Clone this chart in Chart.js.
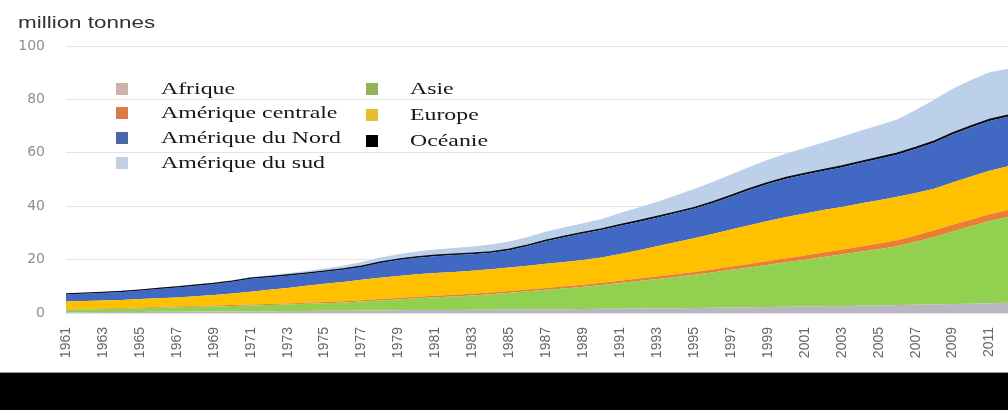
<!DOCTYPE html>
<html>
<head>
<meta charset="utf-8">
<script src="https://cdn.jsdelivr.net/npm/chart.js@4.4.1/dist/chart.umd.min.js"></script>
<style>
  html, body { margin: 0; padding: 0; background: #fff; overflow: hidden; }
  #wrap { position: relative; width: 1008px; height: 372px; }
  #chart { position: absolute; left: 0; top: 0; }
  #unit {
    position: absolute; left: 18px; top: 13px;
    font: 17px "Liberation Sans", Arial, sans-serif; color: #333;
    transform: scaleX(1.32); transform-origin: left top; white-space: nowrap;
  }
  .lg-item { position: absolute; height: 20px; white-space: nowrap; }
  .lg-box { position: absolute; left: 0; top: 4px; width: 12px; height: 12px; }
  .lg-text {
    position: absolute; top: 0; line-height: 20px;
    font: 17px "Liberation Serif", "Times New Roman", serif; color: #161616;
    transform: scaleX(1.4); transform-origin: left center;
  }
  #band { width: 1008px; height: 38px; background: #000; border-top: 1px solid #9a9a9a; box-sizing: border-box; }
</style>
</head>
<body>
<div id="wrap">
  <canvas id="chart" width="1008" height="372"></canvas>
  <div id="unit">million tonnes</div>
  <div id="legend"></div>
</div>
<div id="band"></div>
<script>
// years 1961-2012, every other one labelled on the axis
const years = [];
for (let y = 1961; y <= 2012; y++) years.push(String(y));

const yTicks = [0, 20, 40, 60, 80, 100];

// million tonnes per region, stacked bottom to top in this order
const afrique = [
  0.30, 0.32, 0.35, 0.37, 0.40, 0.45, 0.48, 0.52, 0.56, 0.60,
  0.65, 0.70, 0.72, 0.78, 0.82, 0.88, 0.92, 0.98, 1.02, 1.08,
  1.12, 1.15, 1.18, 1.22, 1.28, 1.32, 1.38, 1.42, 1.50, 1.58,
  1.62, 1.70, 1.75, 1.82, 1.90, 2.00, 2.08, 2.18, 2.25, 2.35,
  2.45, 2.55, 2.62, 2.72, 2.82, 2.95, 3.05, 3.20, 3.35, 3.50,
  3.65, 3.80
];
const asie = [
  0.90, 1.00, 1.12, 1.25, 1.40, 1.55, 1.68, 1.80, 1.92, 2.05,
  2.15, 2.30, 2.45, 2.65, 2.85, 3.05, 3.40, 3.70, 4.05, 4.40,
  4.75, 5.05, 5.40, 5.80, 6.30, 6.80, 7.30, 7.80, 8.30, 8.90,
  9.60, 10.30, 11.00, 11.70, 12.40, 13.20, 14.10, 14.90, 15.80, 16.65,
  17.50, 18.40, 19.30, 20.20, 21.10, 22.05, 23.60, 25.30, 27.20, 29.00,
  30.80, 32.20
];
const ameriqueCentrale = [
  0.20, 0.21, 0.22, 0.24, 0.25, 0.27, 0.29, 0.31, 0.33, 0.35,
  0.38, 0.40, 0.42, 0.44, 0.46, 0.48, 0.50, 0.52, 0.54, 0.56,
  0.58, 0.60, 0.62, 0.64, 0.66, 0.70, 0.72, 0.76, 0.80, 0.85,
  0.88, 0.92, 0.95, 1.00, 1.05, 1.10, 1.20, 1.30, 1.40, 1.50,
  1.60, 1.70, 1.80, 1.95, 2.10, 2.25, 2.35, 2.45, 2.50, 2.55,
  2.55, 2.60
];
const europe = [
  2.90, 2.95, 3.00, 3.05, 3.15, 3.23, 3.40, 3.65, 3.95, 4.30,
  4.82, 5.30, 5.80, 6.30, 6.80, 7.20, 7.68, 8.00, 8.25, 8.46,
  8.55, 8.60, 8.65, 8.70, 8.76, 8.85, 9.00, 9.10, 9.25, 9.45,
  10.00, 10.60, 11.30, 12.00, 12.65, 13.30, 13.90, 14.50, 15.00, 15.50,
  15.70, 15.90, 16.00, 16.10, 16.20, 16.25, 15.90, 15.55, 15.80, 16.10,
  16.30, 16.40
];
const ameriqueNord = [
  2.70, 2.80, 2.90, 3.00, 3.20, 3.50, 3.70, 3.90, 4.10, 4.40,
  4.80, 4.70, 4.60, 4.50, 4.50, 4.60, 4.70, 5.50, 6.00, 6.20,
  6.30, 6.30, 6.20, 6.20, 6.50, 7.40, 8.50, 9.30, 9.90, 10.30,
  10.60, 10.60, 10.70, 10.80, 11.00, 11.50, 12.30, 13.20, 13.90, 14.30,
  14.50, 14.60, 14.80, 15.20, 15.50, 15.80, 16.50, 17.30, 18.00, 18.30,
  18.60, 18.50
];
const oceanie = [
  0.15, 0.15, 0.16, 0.17, 0.18, 0.19, 0.20, 0.22, 0.22, 0.23,
  0.25, 0.25, 0.26, 0.28, 0.28, 0.29, 0.31, 0.31, 0.32, 0.34,
  0.34, 0.35, 0.36, 0.36, 0.38, 0.38, 0.39, 0.41, 0.41, 0.42,
  0.43, 0.45, 0.45, 0.46, 0.48, 0.48, 0.49, 0.51, 0.51, 0.52,
  0.53, 0.55, 0.55, 0.56, 0.58, 0.58, 0.59, 0.61, 0.61, 0.62,
  0.63, 0.64
];
const ameriqueSud = [
  0.20, 0.20, 0.22, 0.22, 0.25, 0.25, 0.28, 0.30, 0.32, 0.35,
  0.40, 0.48, 0.60, 0.75, 0.95, 1.20, 1.60, 1.75, 1.85, 1.95,
  2.10, 2.30, 2.45, 2.70, 2.90, 3.05, 3.20, 3.35, 3.50, 3.70,
  4.30, 4.90, 5.50, 6.20, 7.00, 7.50, 7.80, 8.10, 8.50, 8.90,
  9.50, 10.20, 10.90, 11.50, 12.00, 12.60, 14.00, 15.50, 16.50, 17.20,
  17.60, 17.30
];

const series = [
  { name: 'Afrique', data: afrique, color: '#b9b6c2', legend: '#c9b3ab' },
  { name: 'Asie', data: asie, color: '#92d050', legend: '#93b456' },
  { name: 'Amérique centrale', data: ameriqueCentrale, color: '#ed7d31', legend: '#dd7a4c' },
  { name: 'Europe', data: europe, color: '#ffc000', legend: '#e6bd2e' },
  { name: 'Amérique du Nord', data: ameriqueNord, color: '#4169c4', legend: '#4a67a6' },
  { name: 'Océanie', data: oceanie, color: '#111111', legend: '#000000' },
  { name: 'Amérique du sud', data: ameriqueSud, color: '#bcd0ea', legend: '#c3d0e4' }
];

// legend: two columns, alphabetical top to bottom
const legendCols = [
  ['Afrique', 'Amérique centrale', 'Amérique du Nord', 'Amérique du sud'],
  ['Asie', 'Europe', 'Océanie']
];
const legendEl = document.getElementById('legend');
const colX = [116, 366];
const textDx = [45, 44];
const rowY = [79, 103, 128, 153];
legendCols.forEach((col, c) => {
  col.forEach((name, r) => {
    const s = series.find(d => d.name === name);
    const item = document.createElement('div');
    item.className = 'lg-item';
    item.style.left = colX[c] + 'px';
    item.style.top = (rowY[r] + (c === 1 ? r * 1.5 : 0)) + 'px';
    item.innerHTML = '<span class="lg-box" style="background:' + s.legend + '"></span>' +
      '<span class="lg-text" style="left:' + textDx[c] + 'px">' + name + '</span>';
    legendEl.appendChild(item);
  });
});

const datasets = series.map((s, i) => ({
  label: s.name,
  data: s.data,
  backgroundColor: s.color,
  borderColor: s.name === 'Océanie' ? '#0c0c0c' : s.color,
  borderWidth: s.name === 'Océanie' ? 1.3 : 0,
  pointRadius: 0,
  tension: 0,
  fill: i === 0 ? 'origin' : '-1'
}));

const ctx = document.getElementById('chart').getContext('2d');
new Chart(ctx, {
  type: 'line',
  data: { labels: years, datasets: datasets },
  options: {
    responsive: false,
    animation: false,
    devicePixelRatio: 1,
    layout: { padding: { top: 46, right: 0, left: 0, bottom: 0 } },
    plugins: { legend: { display: false }, tooltip: { enabled: false } },
    scales: {
      x: {
        grid: { display: false, drawTicks: false },
        border: { display: false },
        ticks: {
          autoSkip: false,
          minRotation: 90,
          maxRotation: 90,
          padding: 14,
          color: '#666666',
          font: { family: 'Liberation Sans', size: 14 },
          callback: function (val, i) { return i % 2 === 0 ? years[i] : null; }
        },
        afterFit: function (scale) {
          scale.height = 59;
          scale.paddingLeft = 0;
          scale.paddingRight = 0;
        }
      },
      y: {
        stacked: true,
        min: 0,
        max: 100,
        grid: { color: '#e4e4e4', lineWidth: 1, drawTicks: false },
        border: { display: false },
        ticks: {
          stepSize: 20,
          padding: 21,
          color: '#8e8e8e',
          font: { family: 'DejaVu Sans', size: 14 },
          callback: function (v) { return yTicks.includes(v) ? v : null; }
        },
        afterFit: function (scale) { scale.width = 66; }
      }
    }
  }
});
</script>
</body>
</html>
